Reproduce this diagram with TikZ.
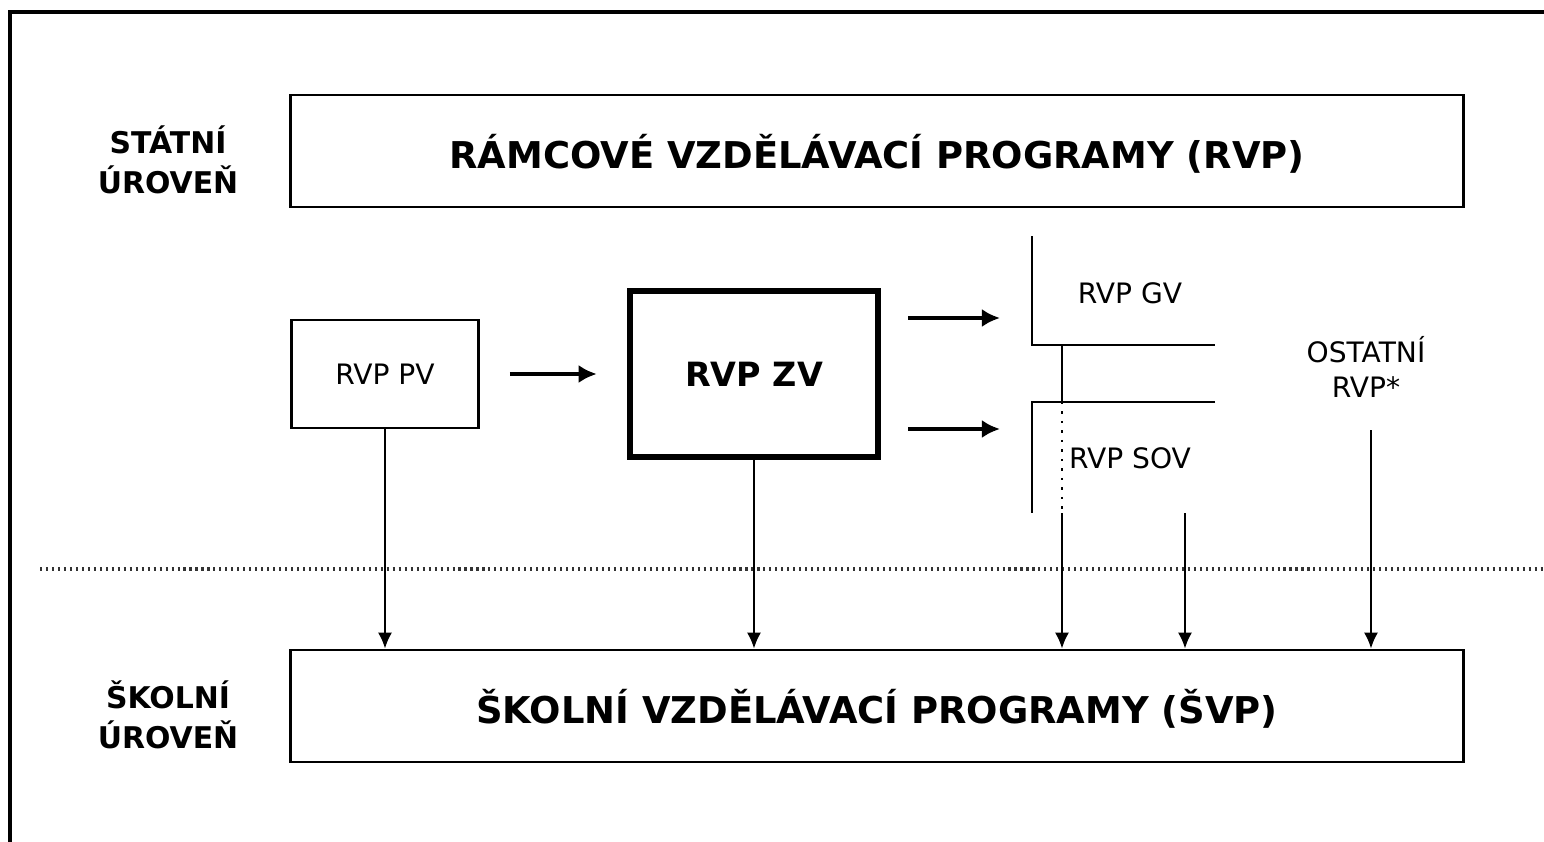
\documentclass[tikz,border=0pt]{standalone}
\usepackage{fontspec}
\setmainfont{DejaVu Sans}
\usetikzlibrary{arrows.meta,positioning}

\begin{document}
\begin{tikzpicture}[x=0.01cm,y=-0.01cm,font=\fontsize{8}{10}\selectfont,
    thinline/.style={line width=0.7pt},
    bigbox/.style={draw,thinline,inner sep=0pt,minimum width=11.72cm,minimum height=1.12cm,
       font=\bfseries\fontsize{10.5}{12}\selectfont},
    levellbl/.style={align=center,font=\bfseries\fontsize{8.5}{11.5}\selectfont},
    smallbox/.style={draw,thinline,inner sep=0pt,minimum width=1.87cm,minimum height=1.08cm},
    zvbox/.style={draw,line width=1.8pt,inner sep=0pt,minimum width=2.48cm,minimum height=1.66cm,
       font=\bfseries\fontsize{9.5}{11}\selectfont},
    arr/.style={thinline,-{Latex[length=1.6mm,width=1.4mm]}},
    bigarr/.style={line width=1.2pt,-{Latex[length=1.8mm,width=1.8mm]}},
    sepline/.style={line width=0.9pt,dash pattern=on 0.6pt off 1.1pt,black!80}]
  \useasboundingbox (0,0) rectangle (1544,842);
  % outer frame
  \draw[line width=0.9pt] (10,842) -- (10,12) -- (1544,12);
  % levels
  \node[bigbox,text depth=-0.12cm] (rvp) at (877,151) {RÁMCOVÉ VZDĚLÁVACÍ PROGRAMY (RVP)};
  \node[bigbox,text depth=-0.12cm] (svp) at (877,706) {ŠKOLNÍ VZDĚLÁVACÍ PROGRAMY (ŠVP)};
  \node[levellbl] (statni) at (168,160) {STÁTNÍ\\ÚROVEŇ};
  \node[levellbl] (skolni) at (168,715) {ŠKOLNÍ\\ÚROVEŇ};
  \draw[sepline] (40,569) -- (1544,569);
  % programmes
  \node[smallbox] (rvppv) at (385,374) {RVP PV};
  \node[zvbox] (rvpzv) at (754,374) {RVP ZV};
  \node (rvpgv) at (1130,293) {RVP GV};
  \node (rvpsov) at (1130,458) {RVP SOV};
  \node[align=center] (ostatni) at (1366,367) {OSTATNÍ\\RVP*};
  \draw[bigarr,shorten <=0.3cm,shorten >=0.3cm] (rvppv) -- (rvpzv);
  \coordinate (gvin) at (1000,318);
  \coordinate (sovin) at (1000,429);
  \draw[bigarr,shorten <=0.27cm] (rvpzv.east |- gvin) -- (gvin);
  \draw[bigarr,shorten <=0.27cm] (rvpzv.east |- sovin) -- (sovin);
  % GV / SOV brackets
  \draw[thinline] (1032,236) -- (1032,345) -- (1215,345);
  \draw[thinline] (1215,402) -- (1032,402) -- (1032,513);
  \coordinate (gvdown) at (1062,345);
  \coordinate (sovtop) at (1062,402);
  \coordinate (sovbot) at (1062,513);
  \coordinate (sovout) at (1185,513);
  \coordinate (ostout) at (1371,430);
  \draw[thinline] (gvdown) -- (sovtop);
  \draw[thinline,dotted] (sovtop) -- (sovbot);
  % down to school level
  \draw[arr] (rvppv.south) -- (rvppv.south |- svp.north);
  \draw[arr] (rvpzv.south) -- (rvpzv.south |- svp.north);
  \draw[arr] (sovbot) -- (sovbot |- svp.north);
  \draw[arr] (sovout) -- (sovout |- svp.north);
  \draw[arr] (ostout) -- (ostout |- svp.north);
\end{tikzpicture}
\end{document}
